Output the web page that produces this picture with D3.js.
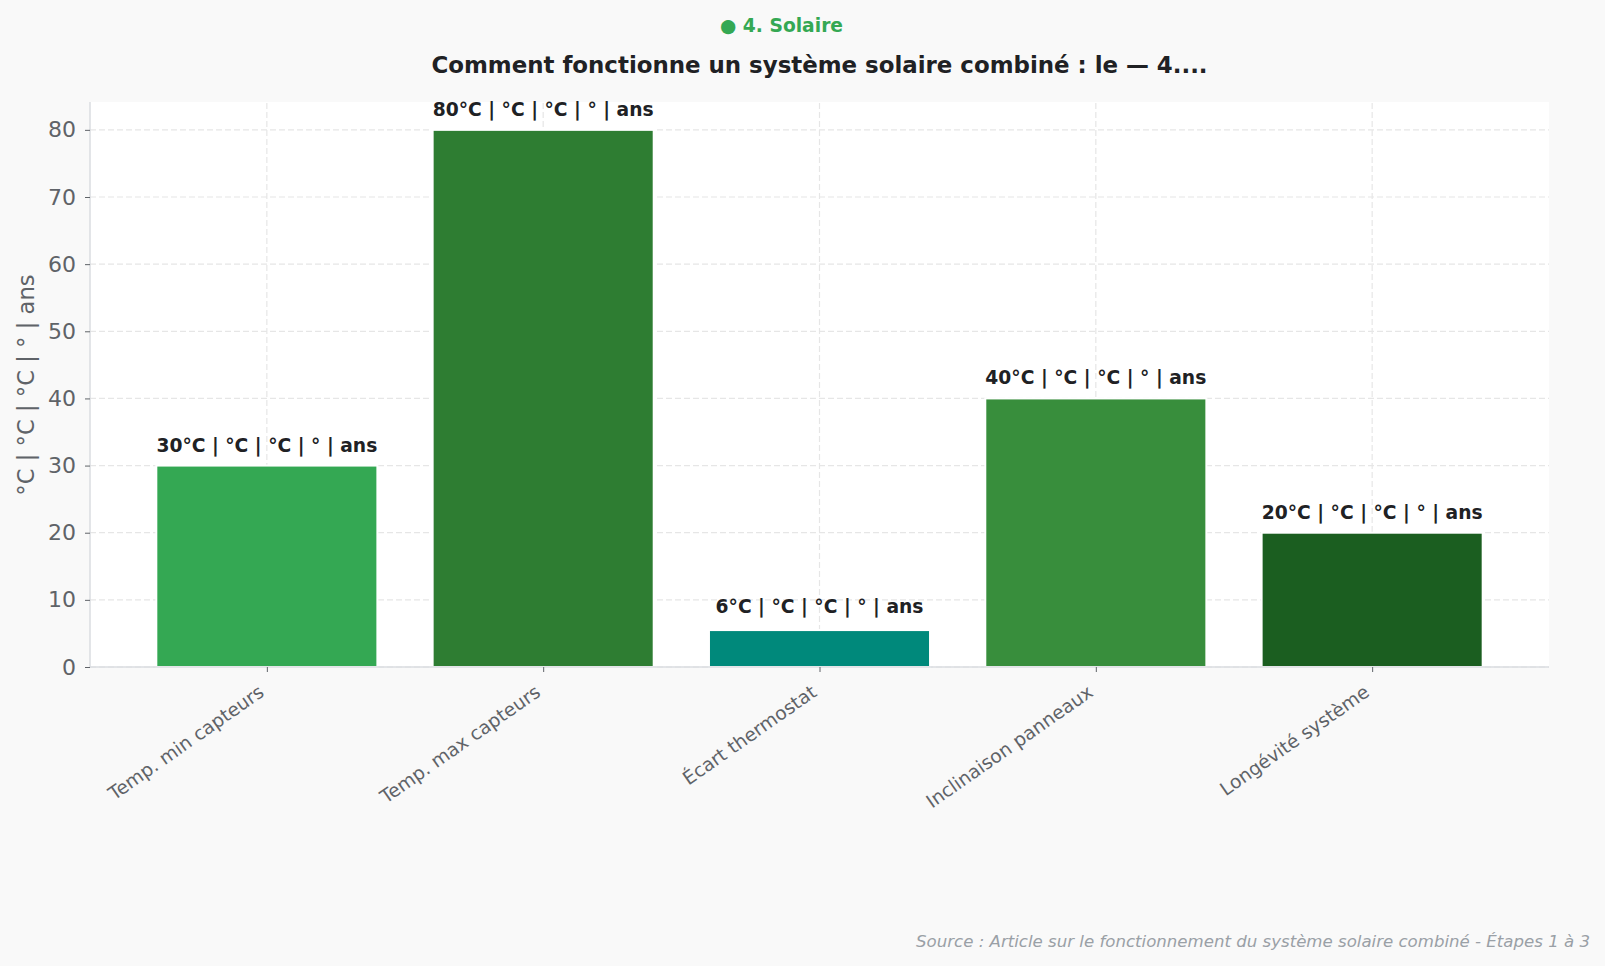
<!DOCTYPE html>
<html>
<head>
<meta charset="utf-8">
<script src="https://cdn.jsdelivr.net/npm/d3@7"></script>
<style>
  body { margin: 0; background: #f9f9f9; }
  svg { display: block; font-family: "DejaVu Sans", sans-serif; }
</style>
</head>
<body>
<div id="chart"></div>
<script>
var categories = ['Temp. min capteurs', 'Temp. max capteurs', 'Écart thermostat', 'Inclinaison panneaux', 'Longévité système'];
var values = [30, 80, 5.5, 40, 20];
var colors = ['#34a853', '#2e7d32', '#00897b', '#388e3c', '#1b5e20'];
var unitText = ' | °C | °C | ° | ans';
var yTicks = [0, 10, 20, 30, 40, 50, 60, 70, 80];

var W = 1605, H = 966;
var margin = {top: 103, right: 56, bottom: 299, left: 90};

var svg = d3.select('#chart').append('svg')
	.attr('width', W)
	.attr('height', H);

svg.append('rect')
	.attr('width', W)
	.attr('height', H)
	.attr('fill', '#f9f9f9');

// matplotlib-like x limits around the 5 bars
var xScale = d3.scaleLinear()
	.domain([-0.64, categories.length - 1 + 0.64])
	.range([margin.left, W - margin.right]);

var yScale = d3.scaleLinear()
	.domain([0, 84])
	.range([H - margin.bottom, margin.top]);

var y0 = yScale(0);
var barW = xScale(0.8) - xScale(0);

svg.append('rect')
	.attr('x', margin.left)
	.attr('y', margin.top - 1)
	.attr('width', W - margin.right - margin.left)
	.attr('height', y0 - margin.top + 1)
	.attr('fill', '#ffffff');

// grid
var grid = svg.append('g');
grid.selectAll('.hg')
	.data(yTicks)
	.enter().append('line')
	.attr('x1', margin.left)
	.attr('x2', W - margin.right)
	.attr('y1', function(d) { return yScale(d); })
	.attr('y2', function(d) { return yScale(d); })
	.attr('stroke', '#e6e6e6')
	.attr('stroke-width', 1.2)
	.attr('stroke-dasharray', '6,3');
grid.selectAll('.vg')
	.data(categories)
	.enter().append('line')
	.attr('x1', function(d, i) { return xScale(i); })
	.attr('x2', function(d, i) { return xScale(i); })
	.attr('y1', margin.top)
	.attr('y2', y0)
	.attr('stroke', '#e6e6e6')
	.attr('stroke-width', 1.2)
	.attr('stroke-dasharray', '6,3');

// bars
svg.append('g')
	.selectAll('rect')
	.data(values)
	.enter()
	.append('rect')
	.attr('x', function(d, i) { return xScale(i) - barW / 2; })
	.attr('y', function(d) { return yScale(d); })
	.attr('width', barW)
	.attr('height', function(d) { return y0 - yScale(d); })
	.attr('fill', function(d, i) { return colors[i]; })
	.attr('stroke', '#ffffff')
	.attr('stroke-width', 2);

// value labels
svg.append('g')
	.selectAll('text')
	.data(values)
	.enter()
	.append('text')
	.attr('x', function(d, i) { return xScale(i); })
	.attr('y', function(d) { return yScale(Math.round(d)) - 14; })
	.attr('text-anchor', 'middle')
	.attr('font-size', '18.7px')
	.attr('font-weight', 'bold')
	.attr('fill', '#202124')
	.text(function(d) { return Math.round(d) + '°C' + unitText; });

// y axis
var yAxis = d3.axisLeft(yScale).tickValues(yTicks).tickSize(5).tickPadding(9);
var yG = svg.append('g')
	.attr('transform', 'translate(' + margin.left + ',0)')
	.call(yAxis);
yG.select('.domain').attr('stroke', '#dadce0').attr('stroke-width', 1.5)
	.attr('d', 'M0,' + (margin.top - 1) + 'V' + y0);
yG.selectAll('.tick line').attr('stroke', '#5f6368');
yG.selectAll('.tick text')
	.attr('fill', '#5f6368')
	.attr('font-size', '22px')
	.attr('font-family', 'DejaVu Sans');

// x axis
var xAxis = d3.axisBottom(xScale)
	.tickValues(d3.range(categories.length))
	.tickFormat(function(i) { return categories[i]; })
	.tickSize(5);
var xG = svg.append('g')
	.attr('transform', 'translate(0,' + y0 + ')')
	.call(xAxis);
xG.select('.domain').attr('stroke', '#dadce0').attr('stroke-width', 1.5)
	.attr('d', 'M' + margin.left + ',0H' + (W - margin.right));
xG.selectAll('.tick line').attr('stroke', '#5f6368');
xG.selectAll('.tick text')
	.attr('fill', '#5f6368')
	.attr('font-size', '18.7px')
	.attr('font-family', 'DejaVu Sans')
	.attr('text-anchor', 'end')
	.attr('dy', null)
	.attr('y', 0)
	.attr('transform', 'translate(-2,28) rotate(-35)');

// y label
svg.append('text')
	.attr('transform', 'translate(34,' + ((margin.top + y0) / 2) + ') rotate(-90)')
	.attr('text-anchor', 'middle')
	.attr('font-size', '22.7px')
	.attr('fill', '#5f6368')
	.text('°C | °C | °C | ° | ans');

// titles
svg.append('text')
	.attr('x', 720)
	.attr('y', 32)
	.attr('font-size', '18.7px')
	.attr('font-weight', 'bold')
	.attr('fill', '#34a853')
	.text('● 4. Solaire');

svg.append('text')
	.attr('x', (margin.left + W - margin.right) / 2)
	.attr('y', 73)
	.attr('text-anchor', 'middle')
	.attr('font-size', '22.9px')
	.attr('font-weight', 'bold')
	.attr('fill', '#202124')
	.text('Comment fonctionne un système solaire combiné : le — 4....');

svg.append('text')
	.attr('x', 1590)
	.attr('y', 947)
	.attr('text-anchor', 'end')
	.attr('font-size', '16.6px')
	.attr('font-style', 'italic')
	.attr('fill', '#9aa0a6')
	.text('Source : Article sur le fonctionnement du système solaire combiné - Étapes 1 à 3');
</script>
</body>
</html>
